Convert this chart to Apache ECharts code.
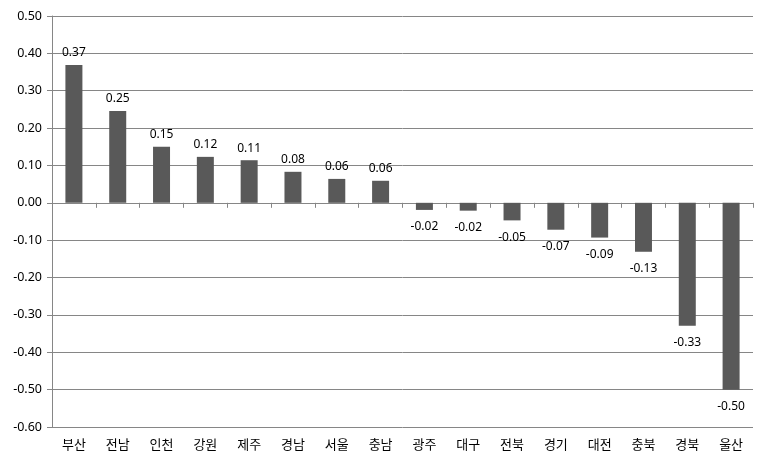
<!DOCTYPE html>
<html><head><meta charset="utf-8">
<script src="https://cdn.jsdelivr.net/npm/echarts@6/dist/echarts.min.js"></script>
<style>html,body{margin:0;padding:0;background:#fff}#c{width:769px;height:469px}</style>
</head><body><div id="c"></div>
<script>
const categories = ['부산','전남','인천','강원','제주','경남','서울','충남','광주','대구','전북','경기','대전','충북','경북','울산'];
const values = [0.369,0.246,0.150,0.123,0.114,0.083,0.064,0.059,-0.019,-0.021,-0.047,-0.072,-0.093,-0.131,-0.329,-0.500];
const yMin = -0.6, yMax = 0.5, yStep = 0.1;
const font = '"Noto Sans CJK KR", "Noto Sans", sans-serif';
const numFont = '"Noto Sans", "Open Sans", sans-serif';
const chart = echarts.init(document.getElementById('c'));
chart.setOption({
  animation: false,
  grid: {left: 52, right: 16, top: 16, bottom: 42, containLabel: false},
  xAxis: [{
    type: 'category', data: categories, position: 'bottom',
    axisLine: {show: false, onZero: false}, axisTick: {show: false},
    axisLabel: {color: '#000', fontSize: 13, fontFamily: font, margin: 11}
  }, {
    type: 'category', data: categories, position: 'bottom',
    axisLine: {show: true, onZero: true, lineStyle: {color: '#868686', width: 1}},
    axisTick: {show: true, length: 5, lineStyle: {color: '#868686'}},
    axisLabel: {show: false}
  }],
  yAxis: {
    type: 'value', min: yMin, max: yMax, interval: yStep,
    axisLine: {show: true, lineStyle: {color: '#868686'}},
    axisTick: {show: true, length: 5, lineStyle: {color: '#868686'}},
    splitLine: {show: true, lineStyle: {color: '#868686', width: 1}},
    axisLabel: {color: '#000', fontSize: 12.5, fontFamily: numFont, margin: 10,
      formatter: v => v.toFixed(2)}
  },
  series: [{
    type: 'bar', barWidth: 17, xAxisIndex: 0,
    data: values.map(v => ({value: v, label: {distance: v < 0 ? 11 : 6}})),
    itemStyle: {color: '#595959'},
    label: {show: true, position: 'outside', color: '#000', fontSize: 12, fontFamily: numFont,
      formatter: p => p.value.toFixed(2)}
  }]
});
</script></body></html>
